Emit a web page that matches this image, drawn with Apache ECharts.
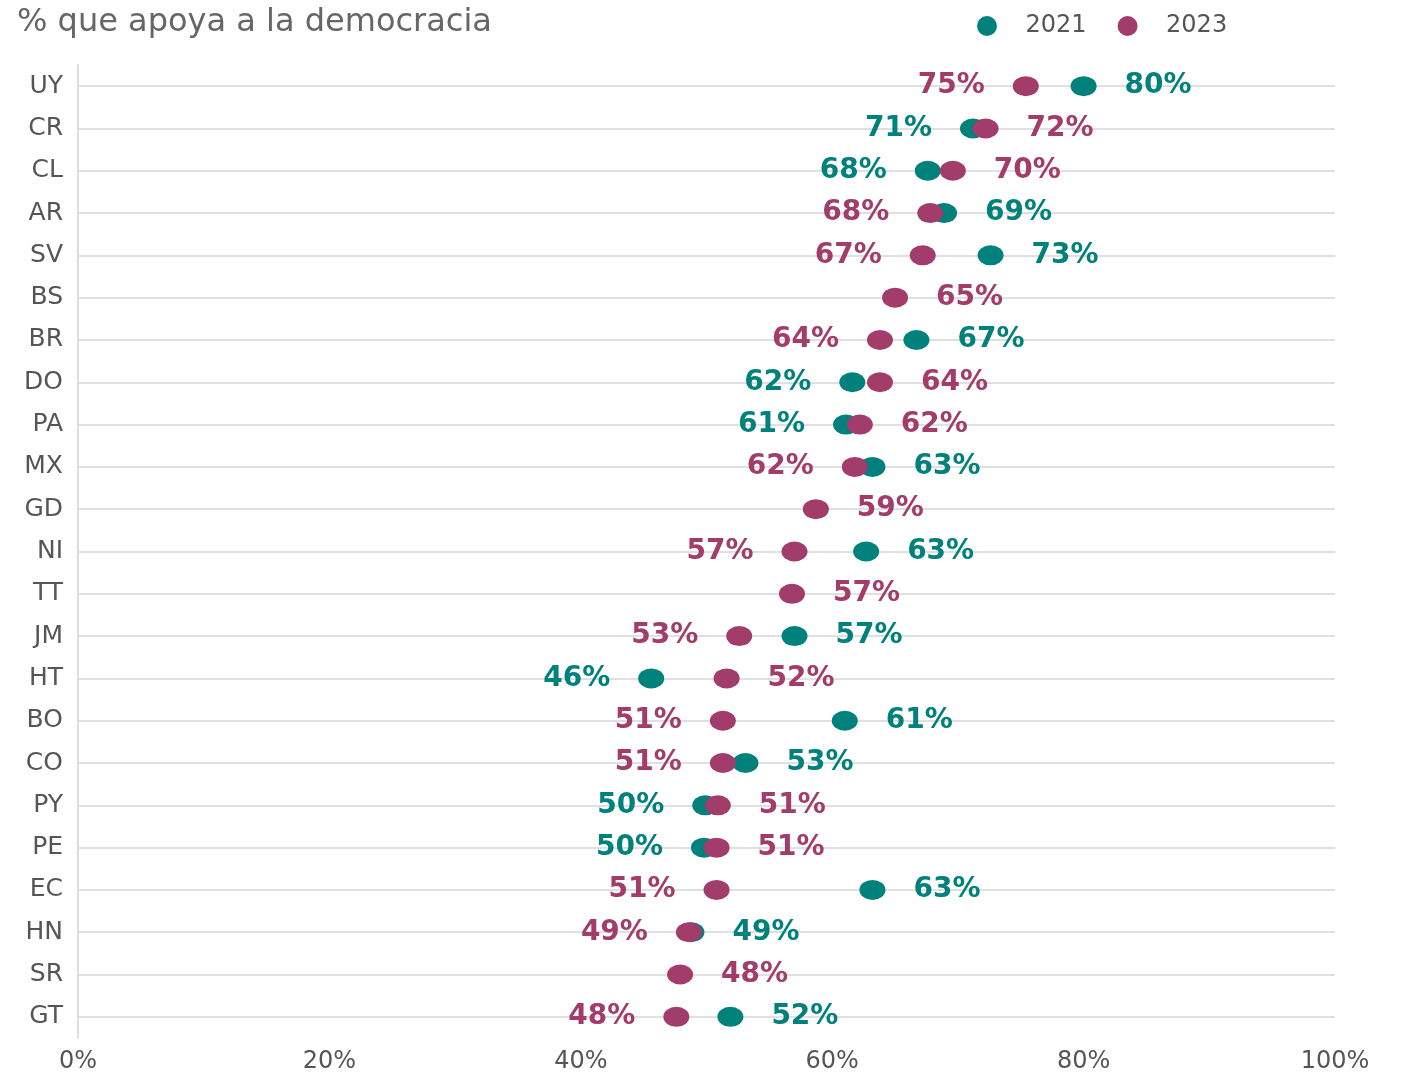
<!DOCTYPE html>
<html><head><meta charset="utf-8">
<script src="https://cdn.jsdelivr.net/npm/echarts@6/dist/echarts.min.js"></script>
<style>html,body{margin:0;padding:0;background:#fff}#c{width:1404px;height:1074px}</style>
</head><body><div id="c"></div>
<script>
const categories = ['UY','CR','CL','AR','SV','BS','BR','DO','PA','MX','GD','NI','TT','JM','HT','BO','CO','PY','PE','EC','HN','SR','GT'];
const v2021 = [80.0,71.2,67.6,68.9,72.6,null,66.7,61.6,61.1,63.2,null,62.7,null,57.0,45.6,61.0,53.1,49.9,49.8,63.2,48.8,null,51.9];
const v2023 = [75.4,72.2,69.6,67.8,67.2,65.0,63.8,63.8,62.2,61.8,58.7,57.0,56.8,52.6,51.6,51.3,51.3,50.9,50.8,50.8,48.6,47.9,47.6];
const xTicks = [0,20,40,60,80,100];
const seriesNames = ['2021','2023'];
const colors = ['#00817b','#a23c6b'];
const ELLIPSE = 'path://M0 50A50 50 0 1 1 100 50A50 50 0 1 1 0 50Z';

function side(own, other){
  if (other == null) return 'right';
  return own < other ? 'left' : 'right';
}
function buildData(vals, others){
  const out = [];
  vals.forEach((v,i)=>{
    if (v == null) return;
    out.push({value:[v, categories[i]], label:{position: side(v, others[i])}});
  });
  return out;
}
const labelStyle = (c)=>({show:true, distance:28, color:c, fontFamily:'DejaVu Sans', fontWeight:'bold', fontSize:28,
  formatter:(p)=>Math.round(p.value[0])+'%'});

const chart = echarts.init(document.getElementById('c'), null, {renderer:'canvas'});
chart.setOption({
  animation:false,
  title:{text:'% que apoya a la democracia', left:12, top:2,
    textStyle:{fontFamily:'DejaVu Sans', fontWeight:'normal', fontSize:32, color:'#666'}},
  legend:{data:seriesNames, left:972, top:9, itemWidth:27, itemHeight:20, itemGap:31, icon:ELLIPSE,
    textStyle:{fontFamily:'DejaVu Sans', fontSize:24, color:'#555', padding:[0,0,0,20]}},
  grid:{left:78, right:69, top:65, bottom:33, containLabel:false},
  xAxis:{type:'value', min:xTicks[0], max:xTicks[xTicks.length-1], interval:20,
    axisLine:{show:false}, axisTick:{show:false}, splitLine:{show:false},
    axisLabel:{formatter:(v)=>v+'%', fontFamily:'DejaVu Sans', fontSize:24, color:'#555', margin:12}},
  yAxis:{type:'category', data:categories, inverse:true,
    axisLine:{show:true, lineStyle:{color:'#dddddd', width:2}}, axisTick:{show:false}, splitLine:{show:false},
    axisLabel:{fontFamily:'DejaVu Sans', fontSize:25, color:'#555', margin:15}},
  series:[
    {type:'scatter', name:'_grid', data:[], z:0, silent:true,
     markLine:{silent:true, z:0, symbol:'none', label:{show:false}, animation:false,
       lineStyle:{color:'#e0e0e0', width:2, type:'solid'},
       data: categories.map(c=>({yAxis:c}))}},
    {type:'scatter', name:seriesNames[0], symbol:ELLIPSE, symbolSize:[26,20], z:2,
     itemStyle:{color:colors[0], opacity:1}, label:labelStyle(colors[0]), data:buildData(v2021, v2023)},
    {type:'scatter', name:seriesNames[1], symbol:ELLIPSE, symbolSize:[26,20], z:3,
     itemStyle:{color:colors[1], opacity:1}, label:labelStyle(colors[1]), data:buildData(v2023, v2021)}
  ]
});
</script></body></html>
